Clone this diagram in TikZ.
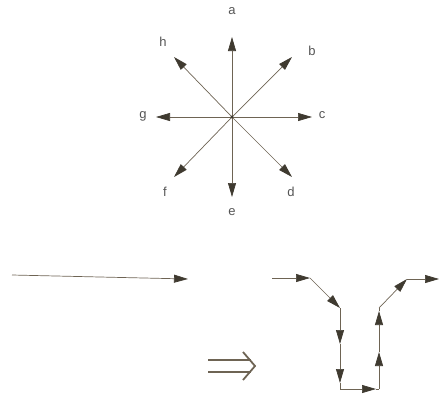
\documentclass[tikz,border=0pt]{standalone}
\usepackage{fontspec}
\setmainfont{Liberation Sans}
\usetikzlibrary{arrows.meta}
\definecolor{ln}{HTML}{6E6454}
\definecolor{hd}{HTML}{3F3A30}
\definecolor{tx}{HTML}{555555}
\tikzset{
  arr/.style={draw=ln, line width=0.7pt, -{Triangle[length=14pt,width=8pt,color=hd]}},
  seg/.style={draw=ln, line width=0.7pt},
  lbl/.style={text=tx, font=\fontsize{13}{14}\selectfont, inner sep=0pt},
}
\begin{document}
\begin{tikzpicture}[x=1pt,y=-1pt]
\useasboundingbox (0,0) rectangle (439,394);
% star
\coordinate (O) at (232,117);
\coordinate (A) at (232,37);
\coordinate (B) at (292,57);
\coordinate (C) at (312,117);
\coordinate (D) at (292,177);
\coordinate (E) at (232,197);
\coordinate (F) at (174,177);
\coordinate (G) at (156,117);
\coordinate (H) at (174,57);
\foreach \p in {A,B,C,D,E,F,G,H} \draw[arr] (O) -- (\p);
\fill[hd] (O) circle (1.6);
\node[lbl] (la) at (232,11) {a};
\node[lbl] (lb) at (312,51) {b};
\node[lbl] (lc) at (322,115) {c};
\node[lbl] (ld) at (291,192) {d};
\node[lbl] (le) at (232,212) {e};
\node[lbl] (lf) at (165,192) {f};
\node[lbl] (lg) at (143,116) {g};
\node[lbl] (lh) at (163,42) {h};
% long arrow
\coordinate (L1) at (12,275);
\coordinate (L2) at (188,279);
\draw[arr] (L1) -- (L2);
% double arrow
\coordinate (D1) at (208,360);
\coordinate (D2) at (251,360);
\coordinate (D3) at (208,372);
\coordinate (D4) at (251,372);
\coordinate (T1) at (243,352);
\coordinate (T0) at (255,366);
\coordinate (T2) at (243,380);
\draw[draw=ln, line width=1.8pt] (D1) -- (D2) (D3) -- (D4);
\draw[draw=ln, line width=1.8pt, line join=miter] (T1) -- (T0) -- (T2);
% path
\coordinate (P0) at (272,278);
\coordinate (P1) at (310,278);
\coordinate (P2) at (340,308);
\coordinate (Q1) at (340,344);
\coordinate (Q2) at (340,383);
\coordinate (P3) at (340,389);
\coordinate (Q3) at (376,389);
\coordinate (P4) at (379,389);
\coordinate (Q4) at (379,352);
\coordinate (Q5) at (379,311);
\coordinate (P5) at (379,308);
\coordinate (P6) at (407,279);
\coordinate (P7) at (439,279);
\draw[arr] (P0) -- (P1);
\draw[arr] (P1) -- (P2);
\draw[arr] (P2) -- (Q1);
\draw[arr] (Q1) -- (Q2);
\draw[seg] (Q2) -- (P3);
\draw[arr] (P3) -- (Q3);
\draw[seg] (Q3) -- (P4);
\draw[arr] (P4) -- (Q4);
\draw[arr] (Q4) -- (Q5);
\draw[seg] (Q5) -- (P5);
\draw[arr] (P5) -- (P6);
\draw[arr] (P6) -- (P7);
\end{tikzpicture}
\end{document}
